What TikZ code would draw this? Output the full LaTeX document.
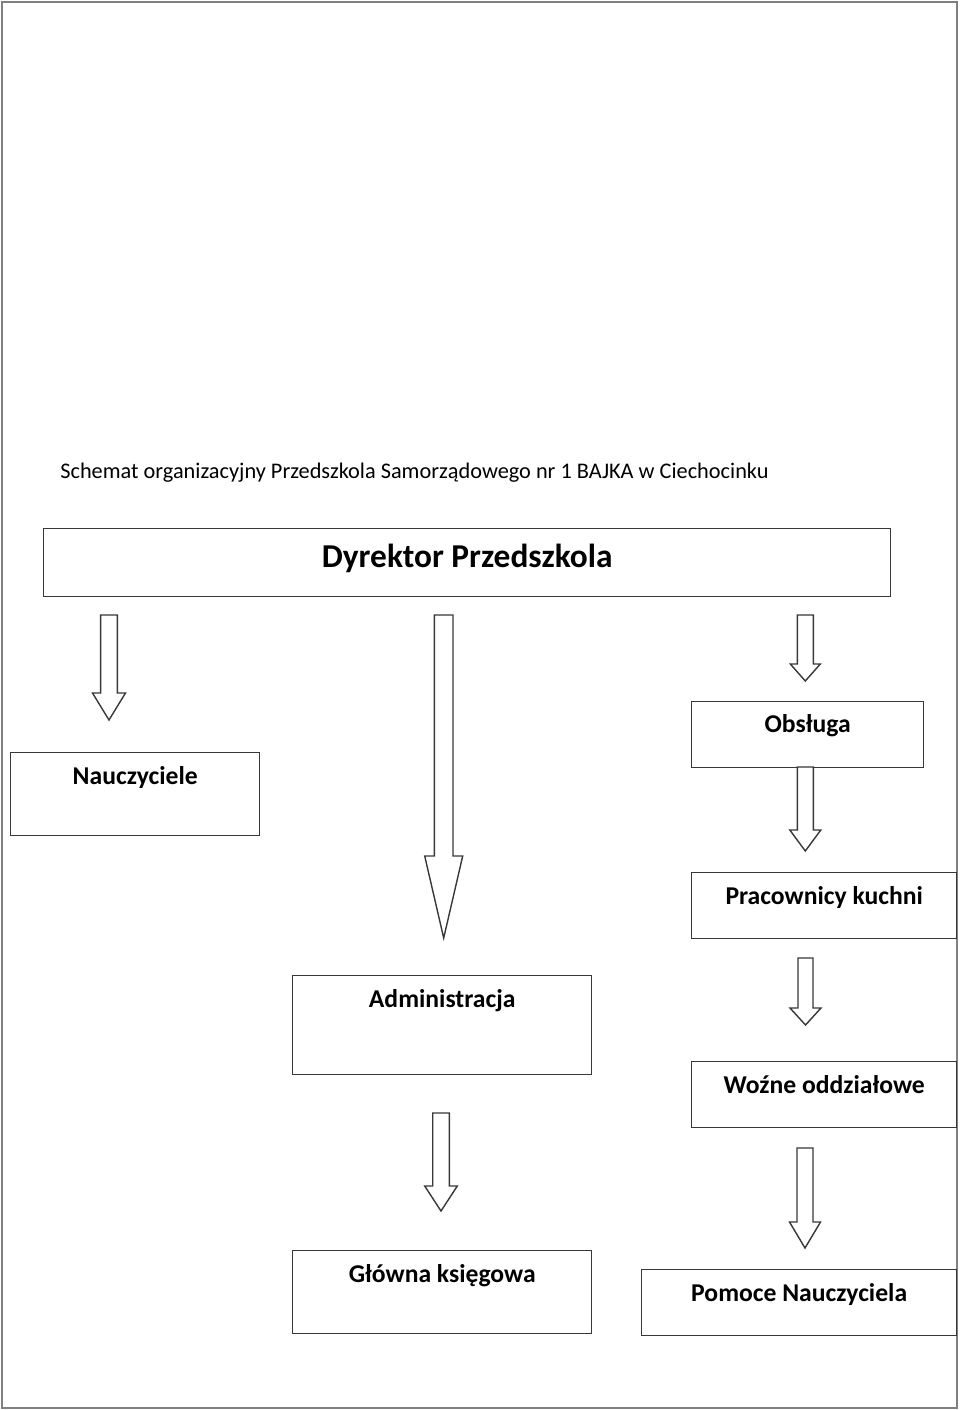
\documentclass[tikz,border=0pt]{standalone}
\usepackage{fontspec}
\setmainfont{Carlito}
\usepackage{tikz}
\definecolor{ramka}{gray}{0.5}
\definecolor{kreska}{gray}{0.22}
\newlength\px
\setlength\px{0.02cm}
% block arrow: (x centre, top, head base, tip, half shaft, half head)
\def\strzalka(#1,#2,#3,#4,#5,#6){\draw[strzalka] (#1-#5,#2) -- (#1+#5,#2) -- (#1+#5,#3) -- (#1+#6,#3) -- (#1,#4) -- (#1-#6,#3) -- (#1-#5,#3) -- cycle;}
\tikzset{
	pole/.style n args={3}{draw=kreska, line width=0.8pt, inner sep=0pt, anchor=north west,
		minimum width=#1\px, text height=#2\px, text depth=#3\px,
		font=\bfseries\fontsize{14.6}{16}\selectfont},
	strzalka/.style={draw=kreska, line width=0.8pt, fill=white, line join=miter}
}

\begin{document}
\begin{tikzpicture}[x=0.02cm, y=-0.02cm]
			%%%%% START %%%%%
			\useasboundingbox (0,0) rectangle (960,1410);
			\draw[ramka, line width=1.1pt] (2,2) rectangle (957,1408);
			
			\node[anchor=base west, inner sep=0pt, font=\fontsize{12.7}{14}\selectfont] (tytul) at (60,478)
				{Schemat organizacyjny Przedszkola Samorządowego nr 1 BAJKA w Ciechocinku};
			
			\node[pole={847}{39}{29}, font=\bfseries\fontsize{19}{20}\selectfont] (dyrektor) at (43,528) {Dyrektor Przedszkola};
			
			\node[pole={249}{32}{51}] (nauczyciele) at (10,752) {Nauczyciele};
			\node[pole={232}{31}{35}] (obsluga) at (691,701) {Obsługa};
			\node[pole={265}{32}{34}] (kuchnia) at (691,872) {Pracownicy kuchni};
			\node[pole={299}{32}{67}] (administracja) at (292,975) {Administracja};
			\node[pole={265}{32}{34}] (wozne) at (691,1061) {Woźne oddziałowe};
			\node[pole={299}{32}{51}] (ksiegowa) at (292,1250) {Główna księgowa};
			\node[pole={315}{32}{34}] (pomoce) at (641,1269) {Pomoce Nauczyciela};
			
			\strzalka(109,615,693,720,8.3,16.5)
			\strzalka(443.7,615,856,938,9.3,19)
			\strzalka(805.3,615,664,681,8,15)
			\strzalka(805.3,767,830,851,8,15.5)
			\strzalka(805.5,958,1008,1025,7.5,15.5)
			\strzalka(441,1113,1186,1211,8.3,16.3)
			\strzalka(805,1148,1222,1248,8,15.5)
			%%%%% END %%%%%
\end{tikzpicture}
\end{document}
